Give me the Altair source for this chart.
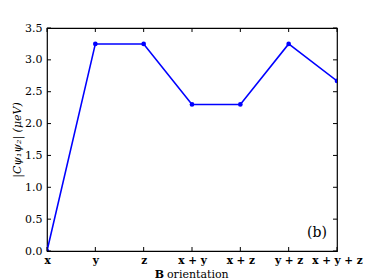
import json
import altair as alt
import pandas as pd

categories = ["x", "y", "z", "x + y", "x + z", "y + z", "x + y + z"]
values = [0.0, 3.25, 3.25, 2.30, 2.30, 3.25, 2.67]
y_ticks = [0.0, 0.5, 1.0, 1.5, 2.0, 2.5, 3.0, 3.5]

W, H, TL = 290, 223, 4

df = pd.DataFrame({"idx": list(range(len(categories))), "cat": categories, "val": values})
xt = pd.DataFrame({"idx": list(range(len(categories)))})
yt = pd.DataFrame({"val": y_ticks})

FONT = "DejaVu Serif"
label_expr = json.dumps(categories) + "[datum.value]"

xscale = alt.Scale(domain=[0, len(categories) - 1], nice=False)
yscale = alt.Scale(domain=[0, 3.5], nice=False)

ax_x = alt.Axis(orient="bottom", values=list(range(len(categories))),
                labelExpr=label_expr, ticks=False,
                domain=False, grid=False, title=None, labelPadding=4,
                labelFont=FONT, labelFontWeight="bold", labelFontSize=10.5,
                labelColor="black", labelFlush=False, labelOverlap=False)
ax_y = alt.Axis(orient="left", values=y_ticks, format=".1f", ticks=False,
                domain=False, grid=False, labelPadding=5,
                labelFont=FONT, labelFontSize=11, labelColor="black",
                title="|Cψ₁ψ₂| (μeV)", titleFont=FONT, titleFontStyle="italic",
                titleFontWeight="normal", titleFontSize=11, titleColor="black",
                titlePadding=2, labelFlush=False, labelOverlap=False)

X = alt.X("idx:Q", scale=xscale, axis=ax_x)
Y = alt.Y("val:Q", scale=yscale, axis=ax_y)

line = alt.Chart(df).mark_line(color="#0000ff", strokeWidth=1.6, clip=True).encode(x=X, y=Y)

points = alt.Chart(df).mark_point(color="#0000ff", filled=True, size=22, opacity=1,
                                  clip=True).encode(x=X, y=Y)

tick_style = dict(color="black", strokeWidth=1)
xb_ticks = alt.Chart(xt).mark_rule(**tick_style).encode(
    x=X, y=alt.value(H), y2=alt.value(H - TL))
xt_ticks = alt.Chart(xt).mark_rule(**tick_style).encode(
    x=X, y=alt.value(0), y2=alt.value(TL))
yl_ticks = alt.Chart(yt).mark_rule(**tick_style).encode(
    y=Y, x=alt.value(0), x2=alt.value(TL))
yr_ticks = alt.Chart(yt).mark_rule(**tick_style).encode(
    y=Y, x=alt.value(W - TL), x2=alt.value(W))

panel = alt.Chart(pd.DataFrame({"t": ["(b)"]})).mark_text(
    font=FONT, fontSize=14, color="black", align="right", baseline="bottom"
).encode(text="t:N", x=alt.value(280), y=alt.value(212))

xb = alt.Chart(pd.DataFrame({"t": ["B"]})).mark_text(
    font=FONT, fontSize=11, fontWeight="bold", color="black", align="right", baseline="middle"
).encode(text="t:N", x=alt.value(117), y=alt.value(246.5))

xo = alt.Chart(pd.DataFrame({"t": ["orientation"]})).mark_text(
    font=FONT, fontSize=11, color="black", align="left", baseline="middle"
).encode(text="t:N", x=alt.value(120), y=alt.value(246.5))

chart = alt.layer(line, points, xb_ticks, xt_ticks, yl_ticks, yr_ticks, panel, xb, xo).properties(
    width=W, height=H,
    background="white",
    autosize=alt.AutoSizeParams(type="none"),
    padding={"left": 39, "top": 20, "right": 29, "bottom": 30},
).configure_view(stroke="black", strokeWidth=1.2)

chart.save("out.html", embed_options={"renderer": "svg", "actions": False})
